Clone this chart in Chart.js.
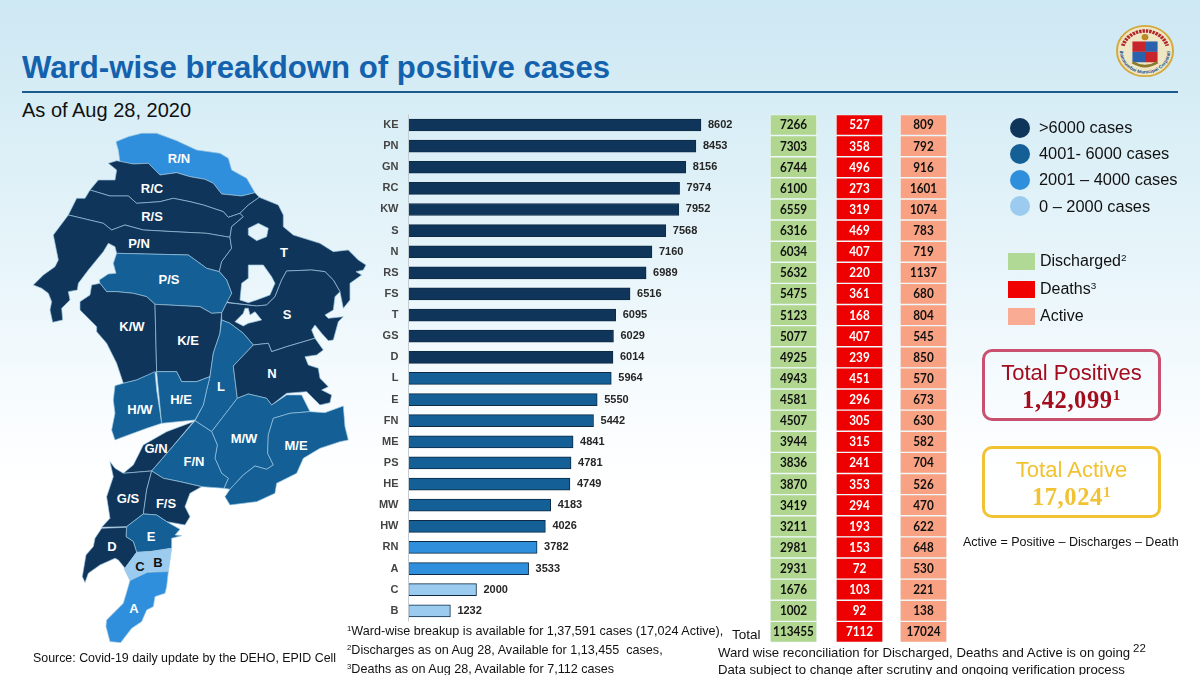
<!DOCTYPE html>
<html>
<head>
<meta charset="utf-8">
<script src="https://cdn.jsdelivr.net/npm/chart.js@4"></script>
<style>
html, body { margin: 0; padding: 0; }
#page { position: relative; width: 1200px; height: 675px; overflow: hidden; font-family: "Liberation Sans", Arial, sans-serif; color: #111;
  background: linear-gradient(to bottom, #cde7f3 0%, #d9eef6 18%, #e8f5fa 40%, #f8fcfe 60%, #ffffff 72%); }
#page > * { position: absolute; }
.t { white-space: nowrap; line-height: 20px; }
sup { font-size: 62%; line-height: 0; vertical-align: baseline; position: relative; top: -0.5em; }
canvas { left: 0; top: 0; }
.dot { width: 20px; height: 20px; border-radius: 50%; left: 1010px; }
.sw { width: 27px; height: 17px; left: 1008px; }
.box { left: 982px; width: 173px; height: 66px; border-radius: 10px; border: 3px solid; text-align: center; }
.box div { line-height: 25px; }
.box .big { font-size: 22px; margin-top: 8px; }
.box .num { font-family: "Liberation Serif", serif; font-weight: bold; font-size: 24.5px; letter-spacing: .6px; margin-top: 2px; }
</style>
</head>
<body>
<div id="page">
  <div class="t" style="left:22px;top:50px;line-height:36px;font-size:31.2px;font-weight:bold;color:#1462ae">Ward-wise breakdown of positive cases</div>
  <div style="left:22px;top:91px;width:1156px;height:2px;background:#1c5c8c"></div>
  <div class="t" style="left:22px;top:100px;font-size:20px">As of Aug 28, 2020</div>

  <svg id="map" style="left:0;top:0" width="1200" height="675"></svg>

  <svg style="left:1116px;top:25px" width="58" height="52" viewBox="5 3 60 60" preserveAspectRatio="none">
    <circle cx="35" cy="33" r="29" fill="#efe7c4" stroke="#d3a93e" stroke-width="2"/>
    <path id="logoArc" d="M9 33a26 26 0 0 0 52 0" fill="none"/>
    <path d="M12 27a24 24 0 0 1 46 0" fill="none" stroke="#b3262c" stroke-width="4" stroke-dasharray="2.5 1"/>
    <text font-size="5.2" font-weight="bold" fill="#234f94"><textPath href="#logoArc" startOffset="50%" text-anchor="middle">Brihanmumbai Municipal Corporation</textPath></text>
    <rect x="22" y="22" width="13" height="12" fill="#c8242c"/><rect x="35" y="22" width="13" height="12" fill="#2a62ad"/>
    <rect x="22" y="34" width="13" height="12" fill="#2a62ad"/><rect x="35" y="34" width="13" height="12" fill="#c8242c"/>
    <path d="M22 46q13 9 26 0" fill="none" stroke="#8a7a30" stroke-width="3"/>
    <circle cx="35" cy="17" r="3.5" fill="#b98a25"/>
  </svg>

  <canvas id="wardChart" width="1200" height="675" style="width:1200px;height:675px"></canvas>

  <div class="dot" style="top:118px;background:#10355a"></div>
  <div class="dot" style="top:144px;background:#135f96"></div>
  <div class="dot" style="top:170px;background:#2f8fdd"></div>
  <div class="dot" style="top:196px;background:#9ccbf0"></div>
  <div class="t" style="left:1039px;top:117px;font-size:16.4px">&gt;6000 cases</div>
  <div class="t" style="left:1039px;top:143px;font-size:16.4px">4001- 6000 cases</div>
  <div class="t" style="left:1039px;top:169px;font-size:16.4px">2001 – 4000 cases</div>
  <div class="t" style="left:1039px;top:196px;font-size:16.4px">0 – 2000 cases</div>

  <div class="sw" style="top:253px;background:#b0d995"></div>
  <div class="sw" style="top:281px;background:#f00000"></div>
  <div class="sw" style="top:308px;background:#f9ab93"></div>
  <div class="t" style="left:1040px;top:251px;font-size:16px">Discharged<sup>2</sup></div>
  <div class="t" style="left:1040px;top:279px;font-size:16px">Deaths<sup>3</sup></div>
  <div class="t" style="left:1040px;top:306px;font-size:16px">Active</div>

  <div class="box" style="top:349px;border-color:#c9506e;color:#a30d1e">
    <div class="big">Total Positives</div><div class="num">1,42,099<sup>1</sup></div>
  </div>
  <div class="box" style="top:446px;border-color:#f1c232;color:#f1c232">
    <div class="big">Total Active</div><div class="num">17,024<sup>1</sup></div>
  </div>
  <div class="t" style="left:963px;top:532px;font-size:12.5px">Active = Positive – Discharges – Death</div>

  <div class="t" style="left:33px;top:648px;font-size:12.4px">Source: Covid-19 daily update by the DEHO, EPID Cell</div>
  <div class="t" style="left:347px;top:621px;font-size:12.6px"><sup>1</sup>Ward-wise breakup is available for 1,37,591 cases (17,024 Active),</div>
  <div class="t" style="left:347px;top:640px;font-size:12.6px"><sup>2</sup>Discharges as on Aug 28, Available for 1,13,455&nbsp; cases,</div>
  <div class="t" style="left:347px;top:659px;font-size:12.6px"><sup>3</sup>Deaths as on Aug 28, Available for 7,112 cases</div>
  <div class="t" style="left:732px;top:625px;font-size:13.5px">Total</div>
  <div class="t" style="left:718px;top:643px;font-size:13.2px">Ward wise reconciliation for Discharged, Deaths and Active is on going</div>
  <div class="t" style="left:718px;top:660px;font-size:13.2px">Data subject to change after scrutiny and ongoing verification process</div>
  <div class="t" style="left:1133px;top:638px;font-size:11.5px">22</div>
</div>

<script>
const wards = ['KE','PN','GN','RC','KW','S','N','RS','FS','T','GS','D','L','E','FN','ME','PS','HE','MW','HW','RN','A','C','B'];
const positives = [8602,8453,8156,7974,7952,7568,7160,6989,6516,6095,6029,6014,5964,5550,5442,4841,4781,4749,4183,4026,3782,3533,2000,1232];
const discharged = [7266,7303,6744,6100,6559,6316,6034,5632,5475,5123,5077,4925,4943,4581,4507,3944,3836,3870,3419,3211,2981,2931,1676,1002];
const deaths = [527,358,496,273,319,469,407,220,361,168,407,239,451,296,305,315,241,353,294,193,153,72,103,92];
const active = [809,792,916,1601,1074,783,719,1137,680,804,545,850,570,673,630,582,704,526,470,622,648,530,221,138];
const totals = { discharged: 113455, deaths: 7112, active: 17024 };

function caseColor(n) {
    if (n > 6000) return '#10355a';
    if (n > 4000) return '#135f96';
    if (n > 2000) return '#2f8fdd';
    return '#9ccbf0';
}

// column spans on the hidden table axis
function cellDataset(values, total, span, fill, textColor) {
    const texts = values.concat(total);
    return {
        xAxisID: 'xTable',
        data: texts.map(() => span),
        cellText: texts,
        cellTextColor: textColor,
        backgroundColor: fill,
        borderColor: '#eef8fb',
        borderWidth: 1,
        borderSkipped: false,
        barThickness: 21
    };
}

const cellLabels = {
    id: 'cellLabels',
    afterDatasetsDraw(chart) {
        const ctx = chart.ctx;
        const y = chart.scales.y;
        // axis line only runs along the ward rows
        const half = (y.getPixelForValue(1) - y.getPixelForValue(0)) / 2;
        ctx.save();
        ctx.strokeStyle = '#c3ccd3';
        ctx.beginPath();
        ctx.moveTo(chart.chartArea.left, y.getPixelForValue(0) - half);
        ctx.lineTo(chart.chartArea.left, y.getPixelForValue(wards.length - 1) + half);
        ctx.stroke();

        ctx.textBaseline = 'middle';
        chart.data.datasets.forEach((ds, i) => {
            chart.getDatasetMeta(i).data.forEach((bar, j) => {
                if (ds.cellText) {
                    const text = String(ds.cellText[j]);
                    ctx.font = 'bold 14px Lato, "Liberation Sans", sans-serif';
                    ctx.fillStyle = ds.cellTextColor;
                    ctx.textAlign = 'center';
                    ctx.fillText(text, (bar.x + bar.base) / 2, bar.y, text.length * 6.8);
                } else if (ds.data[j] != null) {
                    ctx.font = 'bold 11px "Liberation Sans", sans-serif';
                    ctx.fillStyle = '#262626';
                    ctx.textAlign = 'left';
                    ctx.fillText(ds.data[j], bar.x + 7, bar.y);
                }
            });
        });
        ctx.restore();
    }
};

new Chart(document.getElementById('wardChart'), {
    type: 'bar',
    data: {
        labels: wards.concat(''),
        datasets: [
            {
                data: positives.concat(null),
                backgroundColor: positives.map(caseColor),
                borderColor: '#0d2b45',
                borderWidth: 1,
                borderSkipped: false,
                barThickness: 12
            },
            cellDataset(discharged, totals.discharged, [361.5, 408.5], '#b0d68f', '#111'),
            cellDataset(deaths, totals.deaths, [427.5, 474.5], '#ee0000', '#fff'),
            cellDataset(active, totals.active, [491.5, 538.5], '#f9a283', '#111')
        ]
    },
    options: {
        indexAxis: 'y',
        responsive: false,
        animation: false,
        grouped: false,
        layout: { padding: { left: 360, right: 252, top: 114.4, bottom: 32.5 } },
        plugins: { legend: { display: false }, tooltip: { enabled: false } },
        scales: {
            x: { display: false, min: 0, max: 15868 },
            xTable: { display: false, min: 0, max: 539.5 },
            y: {
                afterFit(scale) { scale.width = 48.5; },
                grid: { display: false, drawTicks: false },
                border: { display: false },
                ticks: { color: '#444', padding: 10, autoSkip: false, font: { family: '"Liberation Sans"', size: 11, weight: 'bold' } }
            }
        }
    },
    plugins: [cellLabels]
});

// base map, traced at 3x: page x = X/3, page y = 120 + Y/3
const holes = 'M745 325L775 310L805 325L800 350L770 362L745 345Z M745 435L790 435L815 470L825 490L810 525L770 540L745 548L720 540L725 490L745 475Z';
const mapRegions = [
    ['RN','348,65 385,50 425,40 470,40 530,62 590,90 660,100 685,115 695,150 740,175 765,218 725,228 665,222 640,190 615,178 570,170 530,158 480,165 445,130 400,132 360,125 355,90'],
    ['RC','325,130 350,122 400,132 445,130 480,165 530,158 570,170 615,178 640,190 665,222 725,228 765,218 778,232 745,255 720,280 685,292 670,275 610,255 570,245 520,235 480,245 410,250 385,228 330,228 270,210 295,180 345,180 350,150'],
    ['RS','270,210 330,228 385,228 410,250 480,245 520,235 570,245 610,255 670,275 685,292 720,280 730,290 695,320 690,352 620,340 520,335 430,330 375,315 335,330 310,310 205,285 230,235 255,235'],
    ['PN','205,285 310,310 335,330 375,315 430,330 520,335 620,340 690,352 695,385 665,425 658,455 620,445 565,405 350,400 345,380 325,370 310,395 265,450 235,490 232,510 205,515 210,540 185,565 188,600 158,607 150,570 155,545 145,520 125,505 100,495 130,465 165,440 175,420 160,345'],
    ['T','778,232 835,255 850,285 850,320 880,345 960,370 1000,395 1045,390 1075,420 1098,435 1090,450 1068,455 1085,465 1050,490 1050,540 1030,565 1020,515 1000,480 975,455 935,450 860,453 845,480 825,530 800,555 770,558 690,548 680,545 695,520 680,480 658,455 665,425 695,385 690,352 695,320 730,290 720,280 745,255', holes],
    ['S','680,548 770,558 800,555 825,530 845,480 860,453 935,450 975,455 1000,480 1020,515 1005,530 1000,570 975,585 985,595 1030,590 1015,605 1000,660 985,662 965,640 945,615 935,630 945,655 860,680 815,695 805,670 760,675 730,640 690,610 665,600 665,578', 'M735 565L745 565L750 585L765 575L785 600L745 610L730 618L705 605L730 580Z'],
    ['PS','350,400 565,405 620,445 658,455 680,480 695,520 680,548 665,578 635,580 600,560 465,553 440,530 400,520 350,515 320,515 300,490 298,480 325,462 348,460 340,430'],
    ['KW','275,495 300,490 320,515 350,515 400,520 440,530 465,553 470,755 410,780 370,790 350,730 320,670 290,635 290,620 240,570 240,545 270,525'],
    ['KE','465,553 600,560 635,580 665,578 660,640 640,700 630,770 590,785 545,785 530,755 470,755'],
    ['L','665,600 690,610 730,640 760,675 700,738 712,835 635,935 585,902 610,855 620,810 630,770 640,700 660,640'],
    ['N','760,675 805,670 815,695 860,680 945,655 970,690 950,705 915,710 925,735 955,745 960,775 985,800 965,810 995,825 990,848 960,855 920,815 860,820 815,855 800,835 745,822 712,835 700,738'],
    ['MW','635,935 712,835 745,822 800,835 815,855 860,825 905,825 930,875 870,880 820,895 805,945 803,1000 820,1035 800,1048 765,1038 730,1065 690,1108 672,1105 685,1075 665,1060 645,1015 652,975'],
    ['ME','930,875 975,878 1030,858 1035,920 1045,960 1020,965 960,985 910,1015 890,1060 830,1090 825,1120 770,1145 690,1155 675,1130 690,1108 730,1065 765,1038 800,1048 820,1035 803,1000 805,945 820,895 870,880'],
    ['HW','345,797 370,790 410,780 465,755 470,810 485,910 440,925 385,945 345,960 335,930 345,880 340,840'],
    ['HE','470,755 530,755 545,785 590,785 630,770 620,810 610,855 585,900 485,910'],
    ['GN','580,905 500,935 430,975 420,995 400,1035 370,1060 455,1053 505,995'],
    ['FN','585,902 635,935 652,975 645,1015 665,1060 685,1075 672,1105 605,1100 540,1085 490,1075 455,1053 505,995'],
    ['GS','330,1025 345,1045 370,1060 455,1053 440,1110 430,1182 380,1220 305,1222 330,1195 320,1130 340,1070'],
    ['FS','455,1053 490,1075 540,1085 605,1100 570,1120 555,1160 570,1190 555,1215 500,1205 470,1185 430,1182 440,1110'],
    ['E','380,1220 430,1182 470,1185 500,1205 540,1228 525,1245 545,1247 515,1255 515,1285 450,1295 410,1297 400,1265 378,1250'],
    ['D','305,1225 380,1222 378,1250 400,1265 410,1297 375,1345 355,1320 345,1315 300,1335 265,1360 255,1388 247,1370 258,1305 280,1280 285,1255'],
    ['C','410,1297 452,1295 442,1355 390,1382 373,1347'],
    ['B','452,1295 515,1285 505,1355 442,1355'],
    ['A','390,1382 442,1357 505,1355 500,1400 495,1420 465,1430 460,1460 440,1470 425,1505 395,1525 362,1568 330,1565 318,1520 320,1500 370,1450 385,1400']
];
const mapLabels = [
    ['R/N',179,160,'#fff'],['R/C',152,190,'#fff'],['R/S',152,218,'#fff'],['P/N',139,245,'#fff'],['P/S',169,281,'#fff'],
    ['K/W',132,328,'#fff'],['K/E',188,342,'#fff'],['T',284,254,'#fff'],['S',287,316,'#fff'],['N',272,375,'#fff'],['L',221,388,'#fff'],
    ['H/W',140,411,'#fff'],['H/E',181,401,'#fff'],['M/W',244,440,'#fff'],['M/E',296,447,'#fff'],['G/N',156,450,'#fff'],['F/N',194,463,'#fff'],
    ['G/S',128,500,'#fff'],['F/S',166,505,'#fff'],['E',151,538,'#fff'],['D',112,548,'#fff'],['C',140,568,'#111'],['B',158,564,'#111'],['A',134,610,'#fff']
];
const casesByWard = Object.fromEntries(wards.map((w, i) => [w, positives[i]]));
let mapSvg = '<g transform="translate(0,120) scale(0.3333)" stroke="#9cc6e0" stroke-width="2" stroke-linejoin="round" fill-rule="evenodd">';
mapRegions.forEach(([ward, pts, hole]) => {
    const d = 'M' + pts.split(' ').join('L') + 'Z ' + (hole || '');
    mapSvg += `<path d="${d}" fill="${caseColor(casesByWard[ward])}"/>`;
});
mapSvg += '</g>';
mapLabels.forEach(([name, x, y, color]) => {
    mapSvg += `<text x="${x}" y="${y}" fill="${color}" font-size="13" font-weight="bold" text-anchor="middle" dominant-baseline="middle">${name}</text>`;
});
document.getElementById('map').innerHTML = mapSvg;
</script>
</body>
</html>
